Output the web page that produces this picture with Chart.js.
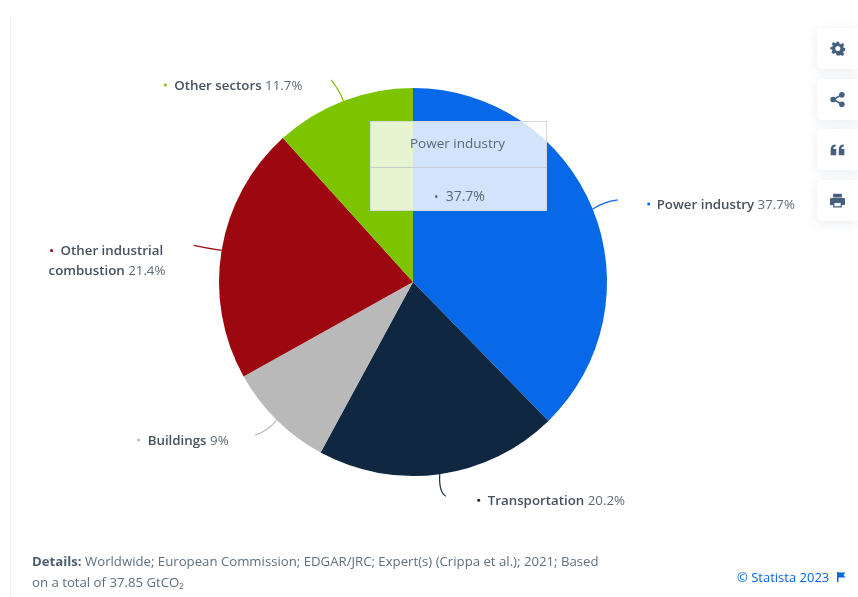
<!DOCTYPE html>
<html>
<head>
<meta charset="utf-8">
<title>CO2 emissions by sector</title>
<script src="https://cdn.jsdelivr.net/npm/chart.js@4/dist/chart.umd.min.js"></script>
<style>
  html, body { margin: 0; padding: 0; background: #fff; }
  body { width: 858px; height: 597px; position: relative; overflow: hidden; font-family: "Open Sans", sans-serif; }
  #wrap { position: absolute; left: 0; top: 0; width: 858px; height: 597px; }
  #edge { position: absolute; left: 10px; top: 15px; width: 1px; height: 582px; background: #f0f0f0; }
  #details { position: absolute; left: 32px; top: 551px; width: 580px; font-size: 13.2px; line-height: 21px; color: #5f6f7f; }
  #details b { font-weight: 700; color: #4f5f6f; }
  #source { position: absolute; left: 737px; top: 568px; font-size: 13px; line-height: 18px; color: #0666e6; white-space: nowrap; }
  #flag { position: absolute; left: 837px; top: 572px; }
  .btn { position: absolute; left: 817px; width: 41px; height: 41px; background: #fff; border-radius: 5px 0 0 5px; box-shadow: 0 2px 12px rgba(90,110,140,.14); }
  .btn svg { position: absolute; left: 13px; top: 13px; }
  #tip { position: absolute; left: 370px; top: 121px; width: 175px; height: 88px; border: 1px solid #d4d8dc; background: rgba(255,255,255,.82); color: #5a6878; font-size: 13.5px; text-align: center; display: none; }
  #tip .ttl { height: 46px; line-height: 42px; border-bottom: 1px solid #c8ccd2; box-sizing: border-box; padding-right: 2px; }
  #tip .val { line-height: 55px; font-size: 14px; padding-left: 2px; }
  #tip .dot { font-size: 12px; margin-right: 7px; }
</style>
</head>
<body>
<div id="edge"></div>
<div id="wrap"><canvas id="pieChart" width="858" height="597"></canvas></div>
<div id="tip"><div class="ttl"></div><div class="val"><span class="dot">&#8226;</span><span class="num"></span></div></div>

<div class="btn" style="top:28px"><svg width="15" height="15" viewBox="0 0 24 24"><path fill="#46617f" d="M10 1h4l.7 3.2 2 .8 2.8-1.700 2.800 2.800-1.700 2.800.8 2 3.200.7v4l-3.200.7-.8 2 1.700 2.800-2.800 2.800-2.800-1.700-2 .8L14 23h-4l-.7-3.200-2-.8-2.800 1.700-2.800-2.800 1.700-2.800-.8-2L0 14v-4l3.200-.7.8-2L2.300 4.500 5.100 1.700 7.900 3.400l2-.8z" transform="translate(0.500 0)"/><circle cx="12.500" cy="12" r="4" fill="#fff"/></svg></div>
<div class="btn" style="top:79px"><svg width="15" height="15" viewBox="0 0 24 24"><g fill="#46617f"><circle cx="19" cy="4.500" r="4.500"/><circle cx="19" cy="19.500" r="4.500"/><circle cx="5" cy="12" r="4.500"/></g><path d="M19 4.500 5 12l14 7.500" stroke="#46617f" stroke-width="2.500" fill="none"/></svg></div>
<div class="btn" style="top:129px"><svg width="15" height="15" viewBox="0 0 24 24"><path fill="#46617f" d="M1 21V12c0-5 3-8 8-8v3c-2 0-3.500 1-3.800 4H10v10zM14 21V12c0-5 3-8 8-8v3c-2 0-3.500 1-3.800 4H23v10z"/></svg></div>
<div class="btn" style="top:180px"><svg width="15" height="15" viewBox="0 0 24 24"><path fill="#46617f" d="M5 1h14v6H5zM2 8h20a2 2 0 0 1 2 2v9h-5v4H5v-4H0v-9a2 2 0 0 1 2-2zm5 8v5h10v-5z"/></svg></div>

<div id="details"><b>Details:</b> Worldwide; European Commission; EDGAR/JRC; Expert(s) (Crippa et al.); 2021; Based on a total of 37.85 GtCO₂</div>
<div id="source">© Statista 2023</div>
<svg id="flag" width="9" height="10" viewBox="0 0 9 10"><path fill="#0666e6" d="M0 0h1.500v10H0zM1.500 0.500h7L6.500 3l2 2.500h-7z"/></svg>

<script>
// chart data
const categories = ['Power industry', 'Transportation', 'Buildings', 'Other industrial combustion', 'Other sectors'];
const shares = [37.7, 20.2, 9, 21.4, 11.7];
const sliceColors = ['#0768e8', '#0f2741', '#b9b9b9', '#9d0810', '#7cc400'];

// where each outside label goes, relative to the edge of its slice
const labelLines = [
  ['Power industry'],
  ['Transportation'],
  ['Buildings'],
  ['Other industrial', 'combustion'],
  ['Other sectors']
];
const labelOffsets = [
  { bx: 56, by: -5, tx: 64, ty: 0, lx: 25, ly: -9, cx: 11, cy: -7 },
  { bx: 39, by: 26, tx: 48, ty: 31, lx: 6, ly: 22, cx: -1, cy: 18 },
  { bx: -138, by: 20, tx: -129, ty: 25, lx: -22, ly: 15, cx: -10, cy: 12 },
  { bx: -170, by: 0, tx: -161, ty: 5, lx: -28, ly: -5, cx: -14, cy: -2 },
  { bx: -178, by: -16, tx: -169, ty: -11, lx: -12, ly: -21, cx: -3, cy: -9 }
];
const secondLineX = [0, 0, 0, -173, 0];

const boldFont = '600 13.3px "Open Sans"';
const plainFont = '400 13.3px "Open Sans"';

// draws leader lines and the labels beside each slice
const outsideLabels = {
  id: 'outsideLabels',
  afterDatasetsDraw(chart) {
    const ctx = chart.ctx;
    const arcs = chart.getDatasetMeta(0).data;
    ctx.save();
    ctx.textBaseline = 'alphabetic';
    arcs.forEach((arc, i) => {
      const mid = (arc.startAngle + arc.endAngle) / 2;
      const x0 = arc.x + arc.outerRadius * Math.cos(mid);
      const y0 = arc.y + arc.outerRadius * Math.sin(mid);
      const o = labelOffsets[i];

      ctx.strokeStyle = sliceColors[i];
      ctx.lineWidth = 1.2;
      ctx.beginPath();
      ctx.moveTo(x0, y0);
      ctx.quadraticCurveTo(x0 + o.cx, y0 + o.cy, x0 + o.lx, y0 + o.ly);
      ctx.stroke();

      ctx.fillStyle = sliceColors[i];
      ctx.beginPath();
      ctx.arc(x0 + o.bx, y0 + o.by, 1.5, 0, Math.PI * 2);
      ctx.fill();

      const lines = labelLines[i];
      let tx = x0 + o.tx;
      let ty = y0 + o.ty;
      lines.forEach((line, n) => {
        if (n > 0) {
          tx = x0 + secondLineX[i];
          ty += 20;
        }
        ctx.font = boldFont;
        ctx.fillStyle = '#46515e';
        ctx.fillText(line, tx, ty);
        if (n === lines.length - 1) {
          const w = ctx.measureText(line + ' ').width;
          ctx.font = plainFont;
          ctx.fillStyle = '#5f6b78';
          ctx.fillText(shares[i] + '%', tx + w, ty);
        }
      });
    });
    ctx.restore();
  }
};

// the tooltip in the picture is an html box
function showTip(context) {
  const tooltip = context.tooltip;
  const tip = document.getElementById('tip');
  if (tooltip.opacity === 0 || !tooltip.body) return;
  tip.querySelector('.ttl').textContent = tooltip.title[0];
  tip.querySelector('.num').textContent = tooltip.body[0].lines[0];
  tip.style.display = 'block';
}

const pieChart = new Chart(document.getElementById('pieChart'), {
  type: 'pie',
  data: {
    labels: categories,
    datasets: [{
      data: shares,
      backgroundColor: sliceColors,
      hoverBackgroundColor: sliceColors,
      borderWidth: 0,
      hoverBorderWidth: 0,
      hoverOffset: 0
    }]
  },
  options: {
    responsive: false,
    animation: false,
    events: [],
    radius: 194,
    layout: { padding: { right: 32, bottom: 33 } },
    plugins: {
      legend: { display: false },
      title: { display: false },
      tooltip: {
        enabled: false,
        external: showTip,
        callbacks: {
          title: items => items[0].label,
          label: item => item.parsed + '%'
        }
      }
    }
  },
  plugins: [outsideLabels]
});

pieChart.tooltip.setActiveElements([{ datasetIndex: 0, index: 0 }], { x: 0, y: 0 });
pieChart.draw();
</script>
</body>
</html>
